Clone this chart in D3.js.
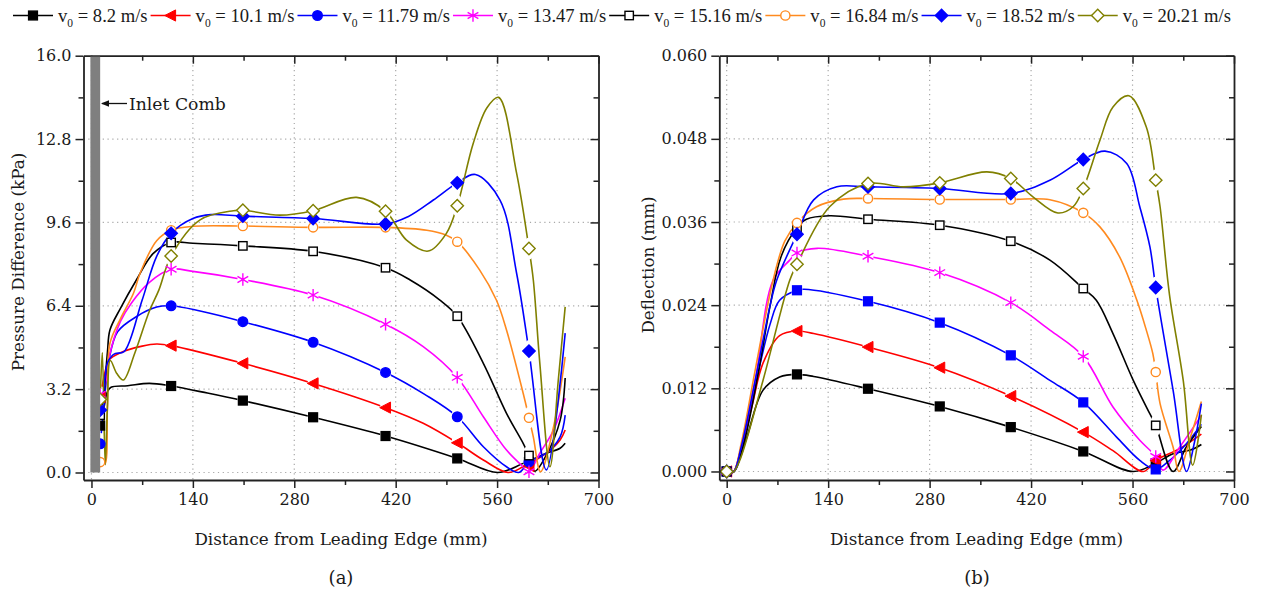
<!DOCTYPE html>
<html><head><meta charset="utf-8">
<script src="https://cdn.jsdelivr.net/npm/d3@7"></script>
<style>body{margin:0;background:#fff}svg{display:block}</style>
</head><body>
<svg id="chart" width="1266" height="594"></svg>
<script>
// ================= DATA =================
const speeds = ["8.2", "10.1", "11.79", "13.47", "15.16", "16.84", "18.52", "20.21"];
const seriesColors = ["#000000", "#ff0000", "#0000ff", "#ff00ff", "#000000", "#ff8a1f", "#0000ff", "#808000"];
const symbolsLegend = ["square", "triLeft", "circle", "star", "openSquare", "openCircle", "diamond", "openDiamond"];
const symbolsB = ["square", "triLeft", "square", "star", "openSquare", "openCircle", "diamond", "openDiamond"];

const xTicks = [0, 140, 280, 420, 560, 700];
const xMinorTicks = [70, 210, 350, 490, 630];
const pressureTicks = [0, 3.2, 6.4, 9.6, 12.8, 16.0];
const pressureMinor = [1.6, 4.8, 8.0, 11.2, 14.4];
const deflectionTicks = [0, 0.012, 0.024, 0.036, 0.048, 0.060];
const deflectionMinor = [0.006, 0.018, 0.030, 0.042, 0.054];

// marker stations (mm)
const markerXA = [12, 110, 209, 306, 406, 505, 604];
const markerXB = [0, 97, 195, 294, 392, 492, 592];

// (a) pressure difference at marker stations (kPa)
const pMark_8_2   = [1.8, 3.32, 2.76, 2.12, 1.40, 0.54, 0.40];
const pMark_10_1  = [2.9, 4.87, 4.19, 3.42, 2.49, 1.14, 0.25];
const pMark_11_79 = [1.1, 6.40, 5.79, 5.00, 3.84, 2.14, 0.41];
const pMark_13_47 = [3.0, 7.80, 7.41, 6.81, 5.69, 3.65, 0.03];
const pMark_15_16 = [2.2, 8.83, 8.70, 8.49, 7.86, 6.00, 0.65];
const pMark_16_84 = [0.4, 9.30, 9.46, 9.41, 9.41, 8.86, 2.10];
const pMark_18_52 = [2.4, 9.18, 9.84, 9.75, 9.54, 11.12, 4.66];
const pMark_20_21 = [2.8, 8.31, 10.07, 10.05, 10.03, 10.24, 8.60];

// (a) pressure difference curves [mm, kPa]
const pCurve_8_2 = [[12,1.8],[18,2.6],[22,3.1],[27,3.27],[50,3.33],[80,3.42],[110,3.32],[160,3.05],[209,2.76],[306,2.12],[406,1.40],[505,0.54],[561,0.0],[596,0.35],[628,0.74],[647,0.93],[654,1.12]];
const pCurve_10_1 = [[12,2.9],[16,3.5],[20,4.0],[24,4.32],[40,4.6],[70,4.85],[90,4.93],[110,4.87],[209,4.19],[306,3.42],[406,2.49],[458,1.89],[505,1.14],[541,0.48],[575,0.0],[596,0.22],[628,0.74],[647,1.25],[654,1.63]];
const pCurve_11_79 = [[12,1.1],[16,2.2],[20,3.4],[24,4.3],[36,5.4],[63,6.0],[90,6.35],[110,6.40],[150,6.2],[209,5.79],[306,5.0],[406,3.84],[460,3.0],[505,2.14],[541,0.99],[573,0.22],[590,0.0],[604,0.41],[628,0.74],[647,1.37],[654,2.2]];
const pCurve_13_47 = [[12,3.0],[16,3.2],[20,3.5],[25,4.5],[40,5.8],[55,6.5],[80,7.3],[110,7.80],[140,7.72],[209,7.41],[306,6.81],[406,5.69],[458,4.83],[505,3.65],[541,2.14],[573,0.86],[596,0.22],[604,0.03],[619,0.74],[638,1.63],[654,2.85]];
const pCurve_15_16 = [[12,2.2],[17,3.0],[22,4.6],[25.5,5.47],[40,6.3],[62,7.39],[85,8.4],[110,8.83],[140,8.8],[209,8.70],[306,8.49],[406,7.86],[440,7.39],[481,6.62],[505,6.0],[541,4.19],[573,2.27],[596,1.12],[604,0.65],[612,0.05],[628,0.67],[647,2.0],[654,3.63]];
const pCurve_16_84 = [[12,0.4],[18,0.3],[22,2.5],[25.5,4.96],[40,5.9],[58,6.88],[67,7.64],[90,8.9],[110,9.30],[140,9.45],[209,9.46],[306,9.41],[406,9.41],[463,9.3],[490,9.11],[505,8.86],[536,7.77],[559,6.62],[573,5.47],[596,3.04],[604,2.1],[610,1.37],[620,0.03],[638,1.76],[654,4.44]];
const pCurve_18_52 = [[12,2.4],[17,3.2],[22,4.2],[29,4.5],[33,4.57],[45,4.64],[70,6.62],[90,8.3],[110,9.18],[140,9.75],[165,9.9],[209,9.84],[306,9.75],[406,9.54],[437,9.82],[472,10.46],[505,11.12],[530,11.44],[564,10.46],[587,7.64],[604,4.66],[628,0.1],[654,5.35]];
const pCurve_20_21 = [[12,2.8],[15,4.6],[19,0.3],[22,2.5],[26,4.3],[35,3.8],[44,3.55],[60,4.6],[80,6.2],[93,7.0],[110,8.31],[150,9.7],[196,10.05],[209,10.07],[260,9.88],[306,10.05],[366,10.56],[406,10.03],[435,8.92],[465,8.5],[490,9.18],[505,10.24],[527,12.63],[546,14.0],[562,14.4],[587,11.48],[604,8.6],[610,7.39],[619,4.19],[633,0.22],[644.5,3.55],[654,6.36]];

// (b) deflection at marker stations (mm)
const dMark_8_2   = [0, 0.01401, 0.01194, 0.00939, 0.00640, 0.00289, 0.00120];
const dMark_10_1  = [0, 0.02027, 0.01796, 0.01498, 0.01088, 0.00568, 0.00159];
const dMark_11_79 = [0, 0.02615, 0.02456, 0.02148, 0.01676, 0.00997, 0.00030];
const dMark_13_47 = [0, 0.03154, 0.03106, 0.02870, 0.02437, 0.01661, 0.00217];
const dMark_15_16 = [0, 0.03520, 0.03640, 0.03554, 0.03323, 0.02640, 0.00665];
const dMark_16_84 = [0, 0.03587, 0.03940, 0.03925, 0.03925, 0.03732, 0.01435];
const dMark_18_52 = [0, 0.03424, 0.04107, 0.04084, 0.04012, 0.04503, 0.02654];
const dMark_20_21 = [0, 0.02990, 0.04156, 0.04165, 0.04228, 0.04084, 0.04204];

// (b) deflection curves [mm, mm]
const dCurve_8_2 = [[0,0],[9,-0.0001],[18,0.0018],[28,0.005],[50,0.0117],[73,0.01363],[97,0.01401],[120,0.0137],[195,0.01194],[294,0.00939],[392,0.0064],[492,0.00289],[561,0.0],[592,0.0012],[616,0.00256],[640,0.0031],[655,0.0039]];
const dCurve_10_1 = [[0,0],[9,-0.0001],[18,0.0026],[35,0.0095],[50,0.0156],[73,0.0196],[97,0.02027],[120,0.0199],[195,0.01796],[294,0.01498],[392,0.01088],[492,0.00568],[533,0.003],[575,0.0],[592,0.0016],[625,0.0033],[655,0.0054]];
const dCurve_11_79 = [[0,0],[9,-0.0001],[14,0.0006],[30,0.008],[45,0.015],[60,0.0213],[73,0.0247],[97,0.02615],[107,0.0263],[195,0.02456],[294,0.02148],[392,0.01676],[446,0.01315],[492,0.00997],[538,0.00496],[570,0.0016],[592,0.0003],[610,0.0015],[630,0.0035],[655,0.0068]];
const dCurve_13_47 = [[0,0],[9,-0.0001],[20,0.0035],[40,0.0135],[64,0.0276],[87,0.0305],[97,0.03154],[125,0.0322],[195,0.03106],[294,0.0287],[392,0.02437],[446,0.0204],[492,0.01661],[533,0.0093],[570,0.0045],[592,0.00217],[602,0.0002],[625,0.0035],[655,0.0081]];
const dCurve_15_16 = [[0,0],[9,-0.0001],[18,0.002],[28,0.0059],[45,0.015],[60,0.024],[75,0.031],[97,0.0352],[110,0.0364],[142,0.0369],[195,0.0364],[294,0.03554],[392,0.03323],[446,0.0305],[492,0.0264],[510,0.0247],[533,0.0199],[561,0.01315],[584,0.0083],[592,0.00665],[616,0.0],[634,0.0035],[655,0.0065]];
const dCurve_16_84 = [[0,0],[9,-0.0001],[20,0.004],[40,0.015],[64,0.0276],[80,0.0332],[97,0.03587],[124,0.0382],[161,0.0393],[195,0.0394],[294,0.03925],[392,0.03925],[446,0.0392],[492,0.03732],[515,0.0353],[542,0.031],[566,0.0247],[579,0.0204],[588,0.017],[592,0.01435],[598,0.0098],[616,0.0035],[624,0.0],[640,0.005],[655,0.0101]];
const dCurve_18_52 = [[0,0],[9,-0.0001],[20,0.0035],[40,0.0135],[60,0.024],[69,0.0276],[97,0.03424],[120,0.0392],[152,0.0411],[195,0.04107],[294,0.04084],[392,0.04012],[446,0.04204],[492,0.04503],[522,0.04623],[552,0.04445],[570,0.0382],[584,0.0324],[592,0.02654],[616,0.0117],[634.5,0.0],[645,0.004],[655,0.0098]];
const dCurve_20_21 = [[0,0],[9,-0.0001],[18,0.0016],[50,0.0131],[87,0.0276],[97,0.0299],[142,0.0382],[195,0.04156],[244,0.04107],[294,0.04165],[359,0.04324],[392,0.04228],[423,0.0396],[457,0.0373],[478,0.0382],[492,0.04084],[515,0.0478],[533,0.0526],[555,0.05422],[579,0.0497],[592,0.04204],[598,0.0382],[611,0.0255],[630,0.0131],[643,0.0009],[655,0.0082]];

const pressureMarks = [pMark_8_2, pMark_10_1, pMark_11_79, pMark_13_47, pMark_15_16, pMark_16_84, pMark_18_52, pMark_20_21];
const pressureCurves = [pCurve_8_2, pCurve_10_1, pCurve_11_79, pCurve_13_47, pCurve_15_16, pCurve_16_84, pCurve_18_52, pCurve_20_21];
const deflectionMarks = [dMark_8_2, dMark_10_1, dMark_11_79, dMark_13_47, dMark_15_16, dMark_16_84, dMark_18_52, dMark_20_21];
const deflectionCurves = [dCurve_8_2, dCurve_10_1, dCurve_11_79, dCurve_13_47, dCurve_15_16, dCurve_16_84, dCurve_18_52, dCurve_20_21];

// ================= DRAWING =================
const FONT = "'DejaVu Serif', serif";
const svg = d3.select("#chart");
const defs = svg.append("defs");
const TEXT = "#1a1a1a";

function drawSymbol(sel, type, color) {
  const sw = 1.4;
  if (type === "square" || type === "openSquare") {
    const h = type === "square" ? 4.4 : 4.2;
    sel.append("rect").attr("x", -h).attr("y", -h).attr("width", 2*h).attr("height", 2*h)
      .attr("fill", type === "square" ? color : "#fff").attr("stroke", color).attr("stroke-width", sw);
  } else if (type === "circle" || type === "openCircle") {
    sel.append("circle").attr("r", type === "circle" ? 4.8 : 4.6)
      .attr("fill", type === "circle" ? color : "#fff").attr("stroke", color).attr("stroke-width", sw);
  } else if (type === "triLeft") {
    sel.append("path").attr("d", "M-5.8,0L5,-5.6L5,5.6Z").attr("fill", color).attr("stroke", color).attr("stroke-width", 1);
  } else if (type === "diamond" || type === "openDiamond") {
    const h = 6.2;
    sel.append("path").attr("d", `M0,${-h}L${h},0L0,${h}L${-h},0Z`)
      .attr("fill", type === "diamond" ? color : "#fff").attr("stroke", color).attr("stroke-width", sw);
  } else if (type === "star") {
    const r = 6.2, a = Math.PI / 6;
    const dx = r * Math.cos(a), dy = r * Math.sin(a);
    sel.append("path").attr("d", `M0,${-r}L0,${r}M${-dx},${-dy}L${dx},${dy}M${-dx},${dy}L${dx},${-dy}`)
      .attr("stroke", color).attr("stroke-width", 1.4).attr("fill", "none");
  }
}

function drawPanel(cfg) {
  const { left, right, top, bottom, xDomain, yDomain, yTicks, yMinor, yFormat, curves, marks, markerX, symbols, id } = cfg;
  const x = d3.scaleLinear().domain(xDomain).range([left, right]);
  const y = d3.scaleLinear().domain(yDomain).range([bottom, top]);
  const g = svg.append("g");

  defs.append("clipPath").attr("id", "clip" + id)
    .append("rect").attr("x", left).attr("y", top).attr("width", right - left).attr("height", bottom - top);

  // grid
  const grid = g.append("g").attr("stroke", "#a8a8a8").attr("stroke-width", 1.2).attr("stroke-dasharray", "1.2,3.6");
  xTicks.filter(v => v < 700).forEach(v => {
    grid.append("line").attr("x1", x(v)).attr("x2", x(v)).attr("y1", top).attr("y2", bottom);
  });
  yTicks.filter(v => v < yDomain[1] - 1e-9).forEach(v => {
    grid.append("line").attr("x1", left).attr("x2", right).attr("y1", y(v)).attr("y2", y(v));
  });

  // lines with gaps at symbols
  const line = d3.line().x(d => x(d[0])).y(d => y(d[1])).curve(d3.curveCatmullRom.alpha(0.5));
  const lg = g.append("g").attr("clip-path", `url(#clip${id})`);
  curves.forEach((c, i) => {
    const mid = `mask${id}_${i}`;
    const m = defs.append("mask").attr("id", mid).attr("maskUnits", "userSpaceOnUse")
      .attr("x", 0).attr("y", 0).attr("width", 1266).attr("height", 594);
    m.append("rect").attr("width", 1266).attr("height", 594).attr("fill", "#fff");
    m.selectAll("ellipse").data(marks[i]).join("ellipse")
      .attr("cx", (d, j) => x(markerX[j])).attr("cy", d => y(d)).attr("rx", 5.5).attr("ry", 11).attr("fill", "#000");
    lg.append("path").attr("d", line(c)).attr("fill", "none").attr("stroke", seriesColors[i])
      .attr("stroke-width", 1.6).attr("mask", `url(#${mid})`);
  });
  marks.forEach((arr, i) => {
    arr.forEach((v, j) => {
      const s = lg.append("g").attr("transform", `translate(${x(markerX[j])},${y(v)})`);
      drawSymbol(s, symbols[i], seriesColors[i]);
    });
  });

  // axes
  const axStyle = sel => {
    sel.selectAll(".domain").attr("stroke", "#222").attr("stroke-width", 1.8);
    sel.selectAll(".tick line").attr("stroke", "#222").attr("stroke-width", 1.5);
    sel.selectAll("text").attr("font-family", FONT).attr("font-size", 16).attr("fill", TEXT);
  };
  g.append("g").attr("transform", `translate(0,${bottom})`)
    .call(d3.axisBottom(x).tickValues(xTicks).tickSize(8).tickSizeOuter(0).tickPadding(6).tickFormat(d3.format("d"))).call(axStyle);
  g.append("g").attr("transform", `translate(0,${bottom})`)
    .call(d3.axisBottom(x).tickValues(xMinorTicks).tickSize(5).tickFormat("")).call(axStyle).select(".domain").remove();
  g.append("g").attr("transform", `translate(0,${top})`)
    .call(d3.axisTop(x).tickValues(xTicks).tickSize(-8).tickSizeOuter(0).tickFormat("")).call(axStyle);
  g.append("g").attr("transform", `translate(0,${top})`)
    .call(d3.axisTop(x).tickValues(xMinorTicks).tickSize(-5).tickFormat("")).call(axStyle).select(".domain").remove();
  g.append("g").attr("transform", `translate(${left},0)`)
    .call(d3.axisLeft(y).tickValues(yTicks).tickSize(8).tickSizeOuter(0).tickPadding(4).tickFormat(yFormat)).call(axStyle);
  g.append("g").attr("transform", `translate(${left},0)`)
    .call(d3.axisLeft(y).tickValues(yMinor).tickSize(5).tickFormat("")).call(axStyle).select(".domain").remove();
  g.append("g").attr("transform", `translate(${right},0)`)
    .call(d3.axisRight(y).tickValues(yTicks).tickSize(-8).tickSizeOuter(0).tickFormat("")).call(axStyle);
  g.append("g").attr("transform", `translate(${right},0)`)
    .call(d3.axisRight(y).tickValues(yMinor).tickSize(-5).tickFormat("")).call(axStyle).select(".domain").remove();

  return { x, y, g };
}

// panel (a)
const A = drawPanel({
  id: "A", left: 83.5, right: 598.5, top: 55.7, bottom: 480,
  xDomain: [-11, 700], yDomain: [-0.288, 16],
  yTicks: pressureTicks, yMinor: pressureMinor, yFormat: d3.format(".1f"),
  curves: pressureCurves, marks: pressureMarks, markerX: markerXA, symbols: symbolsLegend
});
// inlet comb bar + annotation
A.g.append("rect").attr("x", A.x(-1.5)).attr("y", 56.6).attr("width", A.x(12) - A.x(-1.5)).attr("height", A.y(0) - 56.6)
  .attr("fill", "#7f7f7f");
A.g.append("line").attr("x1", 102).attr("x2", 127).attr("y1", 103.5).attr("y2", 103.5).attr("stroke", "#111").attr("stroke-width", 1.3);
A.g.append("path").attr("d", "M101,103.5L109,100.2L109,106.8Z").attr("fill", "#111");
A.g.append("text").attr("x", 129).attr("y", 109.5).text("Inlet Comb")
  .attr("font-family", FONT).attr("font-size", 17.2).attr("fill", TEXT);

// panel (b)
const B = drawPanel({
  id: "B", left: 719.3, right: 1234, top: 55.7, bottom: 480,
  xDomain: [-10.2, 700], yDomain: [-0.00123, 0.060],
  yTicks: deflectionTicks, yMinor: deflectionMinor, yFormat: d3.format(".3f"),
  curves: deflectionCurves, marks: deflectionMarks, markerX: markerXB, symbols: symbolsB
});

// axis titles
function title(txt, x, y, rot) {
  svg.append("text").attr("transform", `translate(${x},${y})` + (rot ? " rotate(-90)" : ""))
    .attr("text-anchor", "middle").attr("font-family", FONT).attr("font-size", 16.8).attr("fill", TEXT).text(txt);
}
title("Distance from Leading Edge (mm)", 341, 545, false);
title("Distance from Leading Edge (mm)", 976.5, 545, false);
title("Pressure Difference (kPa)", 24, 262, true);
title("Deflection (mm)", 654, 265, true);
svg.append("text").attr("x", 341).attr("y", 584).attr("text-anchor", "middle").attr("font-family", FONT)
  .attr("font-size", 18).attr("fill", TEXT).text("(a)");
svg.append("text").attr("x", 977).attr("y", 584).attr("text-anchor", "middle").attr("font-family", FONT)
  .attr("font-size", 18).attr("fill", TEXT).text("(b)");

// legend
const LFONT = "'Liberation Serif', serif";
let lx = 13;
const ly = 15.5;
const legend = svg.append("g");
speeds.forEach((s, i) => {
  const item = legend.append("g");
  item.append("line").attr("x1", lx).attr("x2", lx + 40).attr("y1", ly).attr("y2", ly)
    .attr("stroke", seriesColors[i]).attr("stroke-width", 1.6);
  const sg = item.append("g").attr("transform", `translate(${lx + 20},${ly})`);
  drawSymbol(sg, symbolsLegend[i], seriesColors[i]);
  const t = item.append("text").attr("x", lx + 45).attr("y", ly + 6.5)
    .attr("font-family", LFONT).attr("font-size", 18.6).attr("fill", TEXT);
  t.append("tspan").text("v");
  t.append("tspan").attr("font-size", 11.5).attr("dy", 4.5).text("0");
  t.append("tspan").attr("dy", -4.5).text(` = ${s} m/s`);
  lx = lx + 45 + t.node().getComputedTextLength() + 3;
});
</script>
</body></html>
